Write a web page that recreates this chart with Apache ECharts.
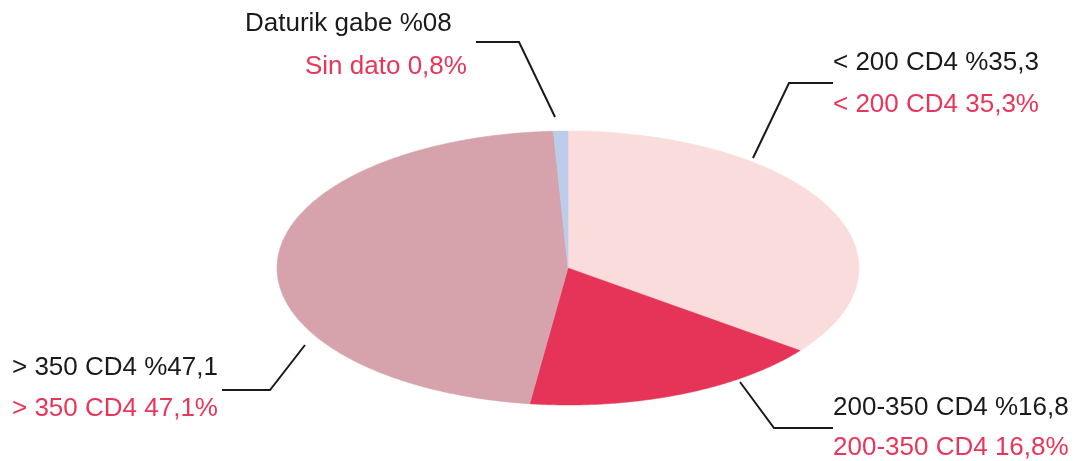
<!DOCTYPE html>
<html>
<head>
<meta charset="utf-8">
<script src="https://cdn.jsdelivr.net/npm/echarts@6/dist/echarts.min.js"></script>
<style>
html,body{margin:0;padding:0;background:#fff}
#box01{width:1077px;height:461px}
</style>
</head>
<body>
<div id="box01"></div>
<script>
// datos
var categories = ['< 200 CD4', '200-350 CD4', '> 350 CD4', 'Sin dato'];
var values = [35.3, 16.8, 47.1, 0.8];
var labelsEu = ['< 200 CD4 %35,3', '200-350 CD4 %16,8', '> 350 CD4 %47,1', 'Daturik gabe %08'];
var labelsEs = ['< 200 CD4 35,3%', '200-350 CD4 16,8%', '> 350 CD4 47,1%', 'Sin dato 0,8%'];

var colors = ['#f9dcdb', '#e63458', '#d6a3ac', '#bccdec'];

// elipse (tarta aplastada)
var cx = 568, cy = 268, rx = 291, ry = 137;

// colocacion de etiquetas: linea guia + texto
var labelLayout = [
    {line: [[753, 158], [789, 83], [833, 83]], x1: 833, y1: 63, x2: 833, y2: 105},
    {line: [[740, 382], [774, 428], [833, 428]], x1: 833, y1: 408, x2: 833, y2: 448},
    {line: [[305, 345], [270, 390], [222, 390]], x1: 12, y1: 368, x2: 12, y2: 409},
    {line: [[555, 117], [519, 42], [476, 42]], x1: 245, y1: 24, x2: 305, y2: 67}
];

var total = values.reduce(function (a, b) { return a + b; }, 0);

function ellipsePoint(frac) {
    var a = frac * Math.PI * 2;
    return [cx + rx * Math.sin(a), cy - ry * Math.cos(a)];
}

function renderSlice(params, api) {
    var i = params.dataIndex;
    var start = 0;
    for (var k = 0; k < i; k++) start += values[k];
    var f0 = start / total;
    var f1 = (start + api.value(0)) / total;
    var pts = [[cx, cy]];
    var steps = Math.max(2, Math.ceil((f1 - f0) * 720));
    for (var s = 0; s <= steps; s++) {
        pts.push(ellipsePoint(f0 + (f1 - f0) * s / steps));
    }
    var lay = labelLayout[i];
    var font = '26px "Liberation Sans", Arial, sans-serif';
    return {
        type: 'group',
        children: [
            {
                type: 'polygon',
                shape: {points: pts},
                style: {fill: colors[i], stroke: colors[i], lineWidth: 0.5}
            },
            {
                type: 'polyline',
                shape: {points: lay.line},
                style: {stroke: '#1a1a1a', lineWidth: 2, fill: null}
            },
            {
                type: 'text',
                x: lay.x1, y: lay.y1,
                style: {text: labelsEu[i], font: font, fill: '#1a1a1a', align: 'left', verticalAlign: 'middle'}
            },
            {
                type: 'text',
                x: lay.x2, y: lay.y2,
                style: {text: labelsEs[i], font: font, fill: '#e8365a', align: 'left', verticalAlign: 'middle'}
            }
        ]
    };
}

var myChart = echarts.init(document.getElementById('box01'));
var option = {
    backgroundColor: '#fff',
    animation: false,
    series: [{
        type: 'custom',
        coordinateSystem: 'none',
        renderItem: renderSlice,
        data: values.map(function (v, i) { return {name: categories[i], value: [v]}; })
    }]
};
myChart.setOption(option);
</script>
</body>
</html>
